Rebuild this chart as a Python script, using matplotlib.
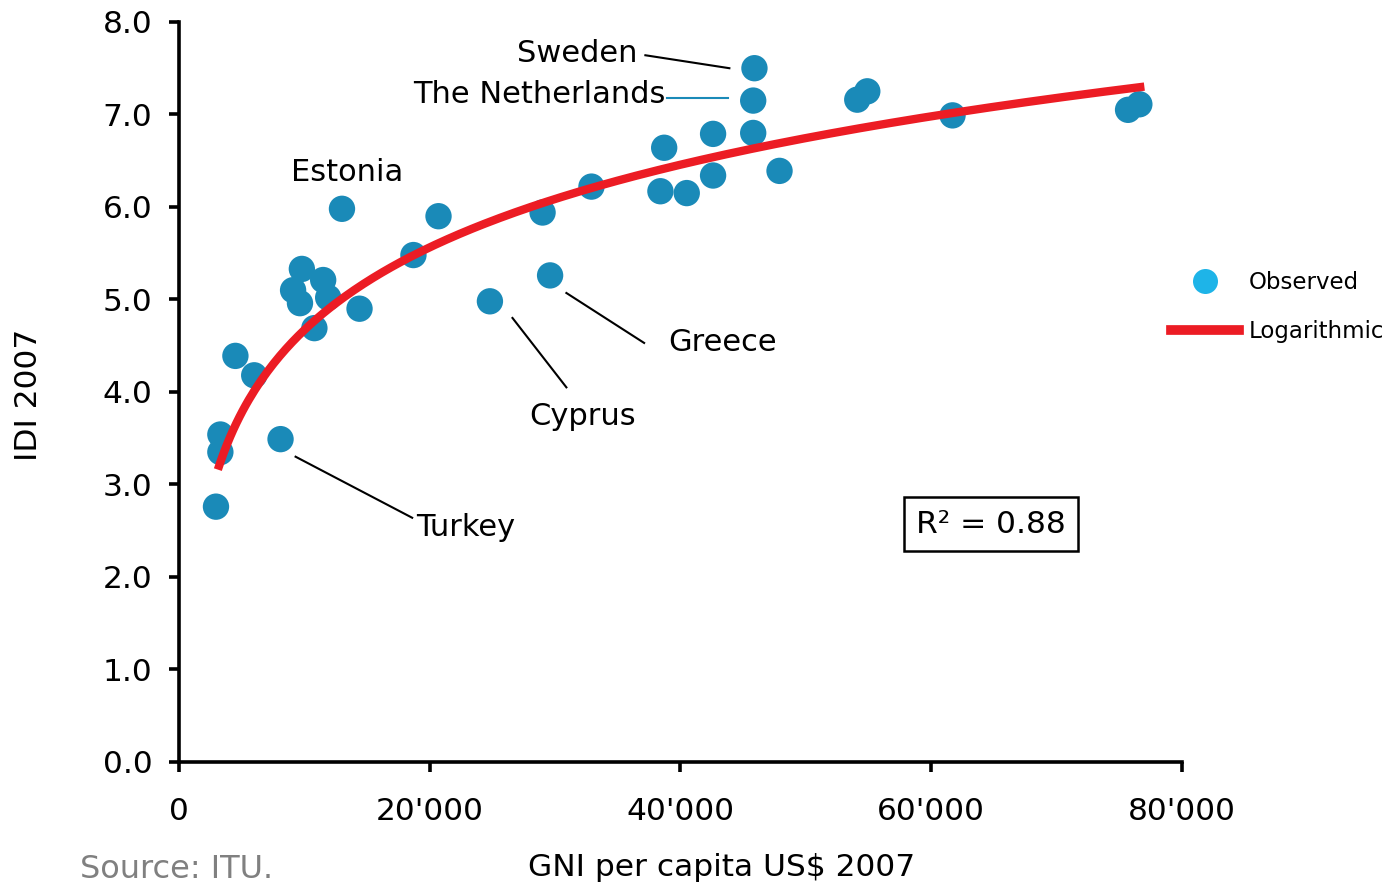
import numpy as np
import matplotlib
matplotlib.use("Agg")
import matplotlib.pyplot as plt
from matplotlib.lines import Line2D

# GNI per capita (US$, 2007) and ICT Development Index (2007)
gni = [13000, 20700, 18700, 9800, 11500, 9100, 9650, 11900, 14400, 10800,
       4500, 6000, 3300, 3300, 8100, 2950, 45900, 45800, 45800, 42600,
       38700, 47900, 42600, 38400, 40500, 32900, 29000, 29600, 24800,
       54100, 54900, 61700, 75700, 76600]
idi = [5.98, 5.90, 5.48, 5.33, 5.21, 5.10, 4.96, 5.02, 4.90, 4.69,
       4.39, 4.18, 3.54, 3.35, 3.49, 2.76, 7.50, 7.15, 6.80, 6.79,
       6.64, 6.39, 6.34, 6.17, 6.15, 6.22, 5.94, 5.26, 4.98,
       7.16, 7.25, 6.99, 7.05, 7.11]

# Logarithmic trend: IDI = trend_a * ln(GNI) + trend_b
trend_a = 1.289
trend_b = -7.202
trend_range = [3100, 77000]
r_squared = 0.88

# Labelled countries and where their names sit
label_names = ["Sweden", "The Netherlands", "Estonia", "Greece", "Cyprus", "Turkey"]
label_x = [36600, 38800, 8900, 39000, 32200, 18900]
label_y = [7.66, 7.22, 6.37, 4.53, 3.73, 2.53]

x_ticks = [0, 20000, 40000, 60000, 80000]
x_tick_labels = ["0", "20'000", "40'000", "60'000", "80'000"]
y_ticks = [0.0, 1.0, 2.0, 3.0, 4.0, 5.0, 6.0, 7.0, 8.0]

gni = np.array(gni, dtype=float)
idi = np.array(idi, dtype=float)

plt.rcParams["font.family"] = ["DejaVu Sans"]

fig = plt.figure(figsize=(13.94, 8.89), dpi=100)
ax = fig.add_axes([0.1284, 0.1429, 0.7195, 0.8324])

dot_color = "#1a8ab8"
red = "#ec1c24"
ax.scatter(gni, idi, s=360, color=dot_color, edgecolors="none", zorder=3)

xs = np.linspace(trend_range[0], trend_range[1], 300)
ax.plot(xs, trend_a * np.log(xs) + trend_b, color=red, lw=6, zorder=4,
        solid_capstyle="butt")

ax.set_xlim(0, 80000)
ax.set_ylim(0, 8.0)
ax.set_xticks(x_ticks)
ax.set_xticklabels(x_tick_labels)
ax.set_yticks(y_ticks)
ax.set_yticklabels([f"{v:.1f}" for v in y_ticks])

for side in ("top", "right"):
    ax.spines[side].set_visible(False)
for side in ("left", "bottom"):
    ax.spines[side].set_linewidth(2.6)
    ax.spines[side].set_color("black")
ax.tick_params(axis="both", direction="out", length=7, width=2.6,
               labelsize=22.5, colors="black")
ax.tick_params(axis="x", pad=18)
ax.tick_params(axis="y", pad=12)

# Axis titles
fig.text(722 / 1394, 1 - 868 / 889, "GNI per capita US$ 2007", fontsize=22.5,
         ha="center", va="center")
fig.text(29 / 1394, 1 - 395 / 889, "IDI 2007", fontsize=22.5, rotation=90,
         ha="center", va="center")

# Country names
aligns = ["right", "right", "left", "left", "center", "left"]
for name, tx, ty, ha in zip(label_names, label_x, label_y, aligns):
    ax.text(tx, ty, name, ha=ha, va="center", fontsize=22)

# Leader lines from names to their points
leaders = [
    ((37200, 7.64), (43900, 7.50), "black"),
    ((38900, 7.18), (43800, 7.18), dot_color),
    ((30900, 5.07), (37100, 4.53), "black"),
    ((26600, 4.80), (30900, 4.05), "black"),
    ((9300, 3.30), (18600, 2.64), "black"),
]
for (x0, y0), (x1, y1), c in leaders:
    ax.plot([x0, x1], [y0, y1], color=c, lw=1.5, zorder=2)

# R-squared box
ax.text(0.8096, 0.321, f"R\u00b2 = {r_squared:.2f}", transform=ax.transAxes,
        ha="center", va="center", fontsize=22.5,
        bbox=dict(boxstyle="square,pad=0.4", facecolor="white",
                  edgecolor="black", linewidth=1.8))

# Legend to the right of the plot area
handles = [
    Line2D([], [], marker="o", linestyle="none", markersize=18,
           markerfacecolor="#1eb4e8", markeredgecolor="none"),
    Line2D([], [], color=red, lw=7),
]
fig.legend(handles, ["Observed", "Logarithmic"], loc="upper left",
           bbox_to_anchor=(0.825, 0.718), frameon=False, fontsize=16.5,
           handlelength=3.0, handletextpad=0.4, labelspacing=1.1)

fig.text(80 / 1394, 1 - 870 / 889, "Source: ITU.", color="#808080",
         fontsize=23, ha="left", va="center")

fig.savefig("out.png", dpi=100, facecolor="white")
